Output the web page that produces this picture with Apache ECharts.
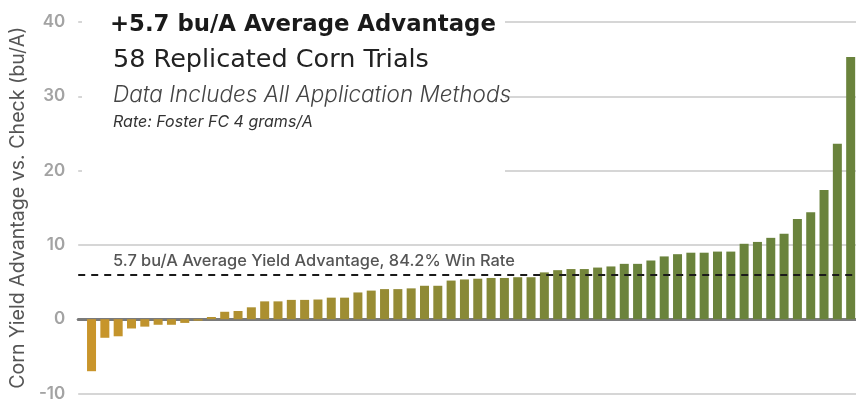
<!DOCTYPE html>
<html><head><meta charset="utf-8">
<script src="https://cdn.jsdelivr.net/npm/echarts@6/dist/echarts.min.js"></script>
<style>html,body{margin:0;padding:0;background:#fff}#c{width:856px;height:403px}</style>
</head><body><div id="c"></div>
<script>
const yieldAdvantage = [
  -7.0, -2.5, -2.3, -1.25, -1.0, -0.75, -0.75, -0.5, -0.2, 0.3,
  1.0, 1.1, 1.6, 2.4, 2.4, 2.6, 2.6, 2.65, 2.9, 2.9,
  3.6, 3.85, 4.05, 4.05, 4.15, 4.5, 4.5, 5.2, 5.35, 5.45,
  5.55, 5.55, 5.65, 5.65, 6.3, 6.6, 6.75, 6.75, 6.95, 7.1,
  7.45, 7.45, 7.9, 8.45, 8.75, 8.95, 8.95, 9.1, 9.1, 10.15,
  10.4, 10.95, 11.5, 13.5, 14.4, 17.4, 23.6, 35.3
];
const trialNumbers = yieldAdvantage.map((_, i) => i + 1);
const yTicks = { min: -10, max: 40, interval: 10 };
const averageLineValue = 6.0;

const titleText = '+5.7 bu/A Average Advantage';
const subtitleText = '58 Replicated Corn Trials';
const noteText = 'Data Includes All Application Methods';
const rateText = 'Rate: Foster FC 4 grams/A';
const annotationText = '5.7 bu/A Average Yield Advantage, 84.2% Win Rate';
const yAxisName = 'Corn Yield Advantage vs. Check (bu/A)';

const gold = [201, 149, 43], green = [106, 131, 60];
function barColor(i) {
  const t = Math.min(1, i / 41);
  const c = gold.map((g, k) => Math.round(g + (green[k] - g) * t));
  return 'rgb(' + c.join(',') + ')';
}

const FONT = 'Inter, "Noto Sans", sans-serif';
const WIDE = '"DejaVu Sans", sans-serif';
const X_MIN = 0, X_MAX = 58.4;
const chart = echarts.init(document.getElementById('c'), null, { renderer: 'canvas' });
chart.setOption({
  animation: false,
  backgroundColor: '#fff',
  grid: { left: 70, right: 0, top: 22, bottom: 9.5, containLabel: false },
  xAxis: {
    type: 'value', min: X_MIN, max: X_MAX,
    axisLine: { show: true, onZero: true, lineStyle: { color: '#7a7a7a', width: 3 } },
    axisTick: { show: false }, axisLabel: { show: false }, splitLine: { show: false }
  },
  yAxis: {
    type: 'value', min: yTicks.min, max: yTicks.max, interval: yTicks.interval,
    name: yAxisName, nameLocation: 'middle', nameGap: 50, nameRotate: 90,
    nameTextStyle: { color: '#555', fontSize: 19.6, fontFamily: FONT },
    axisLine: { show: false }, axisTick: { show: false },
    axisLabel: { color: '#a3a3a3', fontSize: 17, fontWeight: 600, fontFamily: FONT, margin: 13 },
    splitLine: { lineStyle: { color: '#c8c8c8', width: 1.5 } }
  },
  graphic: [{ type: 'rect', z: 1, shape: { x: 82, y: 0, width: 423, height: 185 }, style: { fill: '#fff' } }],
  title: [
    { text: titleText, left: 110, top: 14, padding: 0, textStyle: { fontFamily: WIDE, fontSize: 22.8, fontWeight: 700, color: '#1a1a1a' } },
    { text: subtitleText, left: 113, top: 47.5, padding: 0, textStyle: { fontFamily: WIDE, fontSize: 25.5, fontWeight: 400, color: '#222' } },
    { text: noteText, left: 113, top: 84, padding: 0, textStyle: { fontFamily: FONT, fontSize: 22.5, fontWeight: 300, fontStyle: 'italic', color: '#444' } },
    { text: rateText, left: 113, top: 114.5, padding: 0, textStyle: { fontFamily: FONT, fontSize: 16, fontWeight: 400, fontStyle: 'italic', color: '#333' } },
    { text: annotationText, left: 113, top: 253, padding: 0, textStyle: { fontFamily: FONT, fontSize: 16.4, fontWeight: 500, color: '#555' } }
  ],
  series: [{
    type: 'bar', barWidth: 9,
    data: yieldAdvantage.map((v, i) => ({ value: [trialNumbers[i], v], itemStyle: { color: barColor(i) } })),
    markLine: {
      silent: true, symbol: 'none', label: { show: false },
      lineStyle: { color: '#1a1a1a', type: [7, 6], width: 2 },
      data: [[{ coord: [X_MIN, averageLineValue] }, { coord: [X_MAX, averageLineValue] }]]
    }
  }]
});
</script></body></html>
